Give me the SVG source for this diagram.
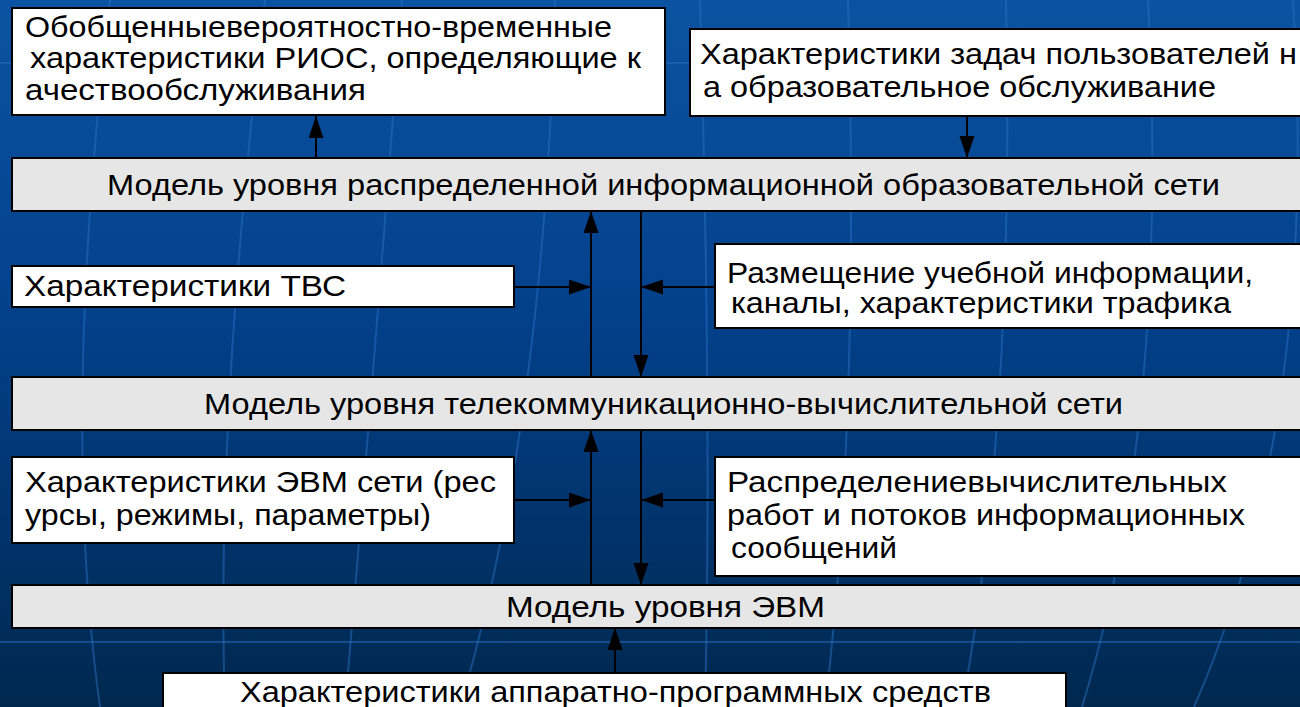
<svg xmlns="http://www.w3.org/2000/svg" width="1300" height="707" viewBox="0 0 1300 707">
  <defs>
    <linearGradient id="bg" x1="0" y1="0" x2="0" y2="1">
      <stop offset="0" stop-color="#0b53a2"/>
      <stop offset="0.45" stop-color="#03408a"/>
      <stop offset="1" stop-color="#00284f"/>
    </linearGradient>
    <marker id="ah" markerUnits="userSpaceOnUse" markerWidth="24" markerHeight="16" refX="22" refY="7.5" orient="auto">
      <path d="M0,0 L22,7.5 L0,15 Z" fill="#000"/>
    </marker>
    <style>
      .box { fill: #ffffff; stroke: #000; stroke-width: 2; }
      .band { fill: #e6e6e6; stroke: #000; stroke-width: 2; }
      .t { font-family: "Liberation Sans", Arial, sans-serif; font-size: 29px; fill: #000; }
      .c { stroke: #000; stroke-width: 2; fill: none; marker-end: url(#ah); }
      .g { stroke: #2a6fc2; stroke-width: 2; fill: none; opacity: 0.5; }
    </style>
  </defs>

  <rect x="0" y="0" width="1300" height="707" fill="url(#bg)"/>

  <g id="background-grid">
    <path class="g" d="M110,0 Q60,420 100,707"/>
    <path class="g" d="M265,0 Q215,420 225,707"/>
    <path class="g" d="M402,0 Q370,420 345,707"/>
    <path class="g" d="M555,0 Q545,420 460,707"/>
    <path class="g" d="M700,0 Q712,420 705,707"/>
    <path class="g" d="M848,0 Q860,420 825,707"/>
    <path class="g" d="M1006,0 Q1015,420 962,707"/>
    <path class="g" d="M1148,0 Q1170,420 1082,707"/>
    <path class="g" d="M1293,0 Q1320,420 1194,707"/>
    <path class="g" d="M0,642 H1300"/>
    <path class="g" d="M0,63 H1300" opacity="0.3"/>
  </g>

  <g id="n1">
    <rect class="box" x="12" y="8" width="653" height="107"/>
    <text class="t" x="25" y="37" textLength="587" lengthAdjust="spacingAndGlyphs">Обобщенныевероятностно-временные</text>
    <text class="t" x="30" y="68" textLength="611" lengthAdjust="spacingAndGlyphs">характеристики РИОС, определяющие к</text>
    <text class="t" x="25" y="100" textLength="341" lengthAdjust="spacingAndGlyphs">ачествообслуживания</text>
  </g>

  <g id="n2">
    <rect class="box" x="690" y="29" width="620" height="87"/>
    <text class="t" x="700" y="64" textLength="597" lengthAdjust="spacingAndGlyphs">Характеристики задач пользователей н</text>
    <text class="t" x="703" y="97" textLength="513" lengthAdjust="spacingAndGlyphs">а образовательное обслуживание</text>
  </g>

  <g id="band1">
    <rect class="band" x="12" y="158" width="1300" height="53"/>
    <text class="t" x="107" y="195" textLength="1113" lengthAdjust="spacingAndGlyphs">Модель уровня распределенной информационной образовательной сети</text>
  </g>

  <g id="n3">
    <rect class="box" x="12" y="266" width="502" height="41"/>
    <text class="t" x="24" y="296" textLength="322" lengthAdjust="spacingAndGlyphs">Характеристики ТВС</text>
  </g>

  <g id="n4">
    <rect class="box" x="715" y="244" width="600" height="84"/>
    <text class="t" x="727" y="283" textLength="526" lengthAdjust="spacingAndGlyphs">Размещение учебной информации,</text>
    <text class="t" x="731" y="313" textLength="500" lengthAdjust="spacingAndGlyphs">каналы, характеристики трафика</text>
  </g>

  <g id="band2">
    <rect class="band" x="12" y="377" width="1300" height="53"/>
    <text class="t" x="204" y="414" textLength="919" lengthAdjust="spacingAndGlyphs">Модель уровня телекоммуникационно-вычислительной сети</text>
  </g>

  <g id="n5">
    <rect class="box" x="12" y="457" width="502" height="86"/>
    <text class="t" x="25" y="492" textLength="471" lengthAdjust="spacingAndGlyphs">Характеристики ЭВМ сети (рес</text>
    <text class="t" x="25" y="525" textLength="406" lengthAdjust="spacingAndGlyphs">урсы, режимы, параметры)</text>
  </g>

  <g id="n6">
    <rect class="box" x="715" y="457" width="600" height="119"/>
    <text class="t" x="727" y="492" textLength="500" lengthAdjust="spacingAndGlyphs">Распределениевычислительных</text>
    <text class="t" x="727" y="525" textLength="518" lengthAdjust="spacingAndGlyphs">работ и потоков информационных</text>
    <text class="t" x="731" y="558" textLength="166" lengthAdjust="spacingAndGlyphs">сообщений</text>
  </g>

  <g id="band3">
    <rect class="band" x="12" y="585" width="1300" height="43"/>
    <text class="t" x="506" y="617" textLength="319" lengthAdjust="spacingAndGlyphs">Модель уровня ЭВМ</text>
  </g>

  <g id="n7">
    <rect class="box" x="163" y="673" width="903" height="50"/>
    <text class="t" x="240" y="702" textLength="751" lengthAdjust="spacingAndGlyphs">Характеристики аппаратно-программных средств</text>
  </g>

  <g id="connectors">
    <path class="c" d="M316,158 V116"/>
    <path class="c" d="M967,116 V158"/>
    <path class="c" d="M591,377 V211"/>
    <path class="c" d="M641,211 V377"/>
    <path class="c" d="M514,287 H591"/>
    <path class="c" d="M715,287 H641"/>
    <path class="c" d="M591,585 V430"/>
    <path class="c" d="M641,430 V585"/>
    <path class="c" d="M514,500 H591"/>
    <path class="c" d="M715,500 H641"/>
    <path class="c" d="M615,673 V628"/>
  </g>
</svg>
